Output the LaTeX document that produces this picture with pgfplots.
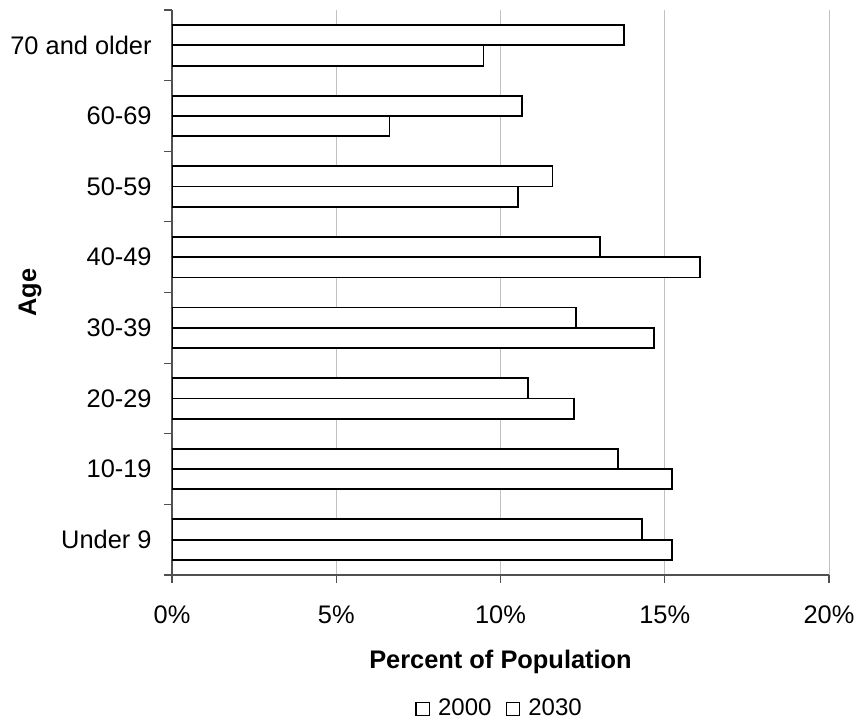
\documentclass[border=0pt]{standalone}
\usepackage{fontspec}
\setmainfont{Liberation Sans}
\usepackage{pgfplots}
\pgfplotsset{compat=1.18}
\definecolor{gridgray}{RGB}{192,192,192}
\definecolor{axisgray}{RGB}{80,80,80}
\begin{document}
\fontsize{12.7}{15}\selectfont
\begin{tikzpicture}[x=1pt,y=1pt]
\useasboundingbox (-86,-73.5) rectangle (341,287.5);
\begin{axis}[
  at={(0,0)}, anchor=south west,
  scale only axis, width=328.5pt, height=282.5pt,
  xbar, bar width=0.2875,
  xmin=0, xmax=20, ymin=-0.5, ymax=7.5,
  axis x line*=bottom, axis y line*=left,
  axis line style={axisgray, line width=0.6pt, -},
  xtick={0,5,10,15,20},
  xticklabels={0\%,5\%,10\%,15\%,20\%},
  xmajorgrids, grid style={gridgray, line width=0.5pt},
  ytick={0,...,7},
  yticklabels={Under 9,10-19,20-29,30-39,40-49,50-59,60-69,70 and older},
  minor ytick={-0.5,0.5,...,7.5},
  tick align=outside,
  major tick length=4pt, minor tick length=4pt,
  major y tick style={draw=none},
  minor y tick style={axisgray, line width=0.6pt},
  major x tick style={axisgray, line width=0.6pt},
  xticklabel style={anchor=north, inner sep=0pt, yshift=-11pt},
  yticklabel style={anchor=east, inner sep=0pt, xshift=-6pt},
  xlabel={\textbf{Percent of Population}},
  xlabel style={at={(axis description cs:0.5,-0.166)}, anchor=base},
  ylabel={\textbf{Age}},
  ylabel style={at={(axis description cs:-0.216,0.5)}, anchor=center},
  legend style={at={(axis description cs:0.497,-0.237)}, anchor=center,
    draw=none, fill=none, legend columns=2, inner sep=0pt,
    font=\fontsize{12}{14}\selectfont,
    nodes={inner sep=0pt},
    /tikz/every odd column/.append style={column sep=4pt},
    /tikz/every even column/.append style={column sep=7pt}},
  legend image code/.code={\draw[#1, line width=0.6pt] (0pt,-3.4pt) rectangle (6.8pt,3.4pt);},
]
\addplot[draw=black, fill=white, line width=0.9pt, bar shift=0.14375]
  coordinates {(14.31,0) (13.58,1) (10.83,2) (12.30,3) (13.03,4) (11.58,5) (10.65,6) (13.76,7)};
\addplot[draw=black, fill=white, line width=0.9pt, bar shift=-0.14375]
  coordinates {(15.22,0) (15.22,1) (12.23,2) (14.68,3) (16.07,4) (10.53,5) (6.62,6) (9.48,7)};
\legend{2000,2030}
\end{axis}
\end{tikzpicture}
\end{document}
